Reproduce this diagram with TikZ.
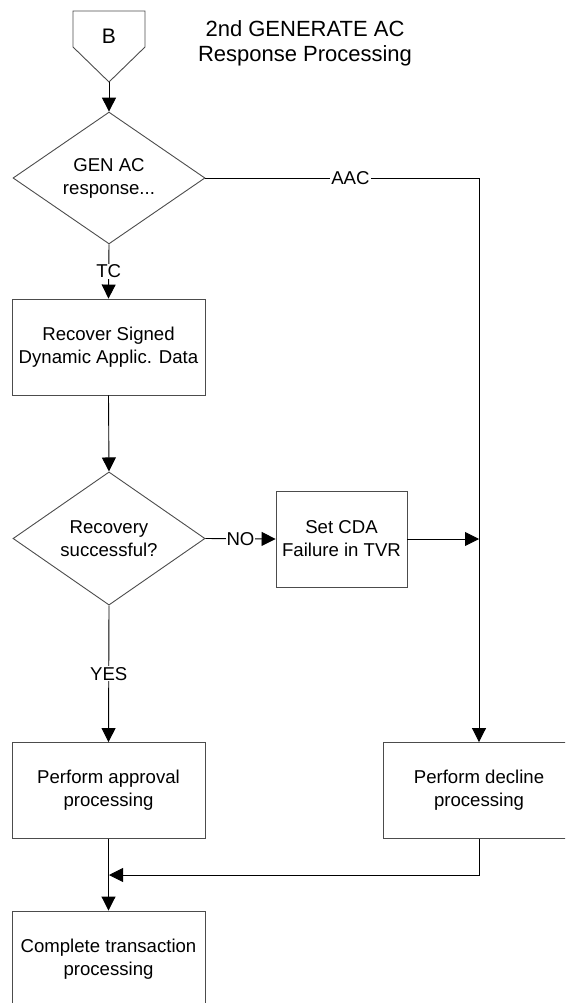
\documentclass[tikz,border=0pt]{standalone}
\usepackage{fontspec}
\setmainfont{Liberation Sans}
\usetikzlibrary{arrows.meta,shapes.geometric}
\begin{document}
\begin{tikzpicture}[x=1pt,y=-1pt,
  shp/.style={draw=black!70,line width=0.9pt},
  txt/.style={font=\fontsize{18.6}{23}\selectfont},
  box/.style={shp,txt,rectangle,minimum width=193pt,minimum height=96pt,inner sep=0pt,align=center},
  dia/.style={shp,txt,diamond,inner sep=0pt,align=center,minimum width=192pt},
  conn/.style={line width=0.9pt,draw=black},
  arr/.style={conn,-{Triangle[width=14pt,length=14pt]}},
  lbl/.style={txt,fill=white,inner sep=1pt},
]
\path[use as bounding box] (0,0) rectangle (565,1003);
\clip (0,0) rectangle (565,1003);

% off-page connector B
\draw[shp] (73,11) -- (145,11) -- (145,47) -- (109,82) -- (73,47) -- cycle;
\node[font=\fontsize{21}{24}\selectfont] (B) at (109,36) {B};
\coordinate (Btip) at (109,82);

% title
\node[font=\fontsize{22}{25}\selectfont, align=center] (title) at (305,43.5) {2nd GENERATE AC\\Response Processing};

% nodes
\node[dia, minimum height=120pt] (d1) at (109,178) {GEN AC\\response...};
\node[box, minimum width=193pt] (rec) at (108.5,347) {Recover Signed\\Dynamic Applic. Data};
\node[dia, minimum height=131pt] (d2) at (109,538.5) {Recovery\\successful?};
\node[box, minimum width=131pt] (cda) at (341.5,539) {Set CDA\\Failure in TVR};
\node[box] (app) at (108.5,790.5) {Perform approval\\processing};
\node[box, minimum width=192pt] (dec) at (479,790.5) {Perform decline\\processing};
\node[box] (comp) at (108.5,959) {Complete transaction\\processing};
\coordinate (join) at (109,875);

% connectors
\draw[arr] (Btip) -- (d1.north);
\draw[arr] (d1.east) -| node[lbl, pos=0.265] {AAC} (dec.north);
\draw[arr] (d1.south) -- node[lbl] {TC} (rec.north);
\draw[arr] (rec.south) -- (d2.north);
\draw[arr] (d2.east) -- node[lbl] {NO} (cda.west);
\draw[arr] (cda.east) -- (cda.east -| dec.north);
\draw[arr] (d2.south) -- node[lbl] {YES} (app.north);
\draw[arr] (dec.south) |- (join);
\draw[arr] (app.south) -- (comp.north);
\end{tikzpicture}
\end{document}
